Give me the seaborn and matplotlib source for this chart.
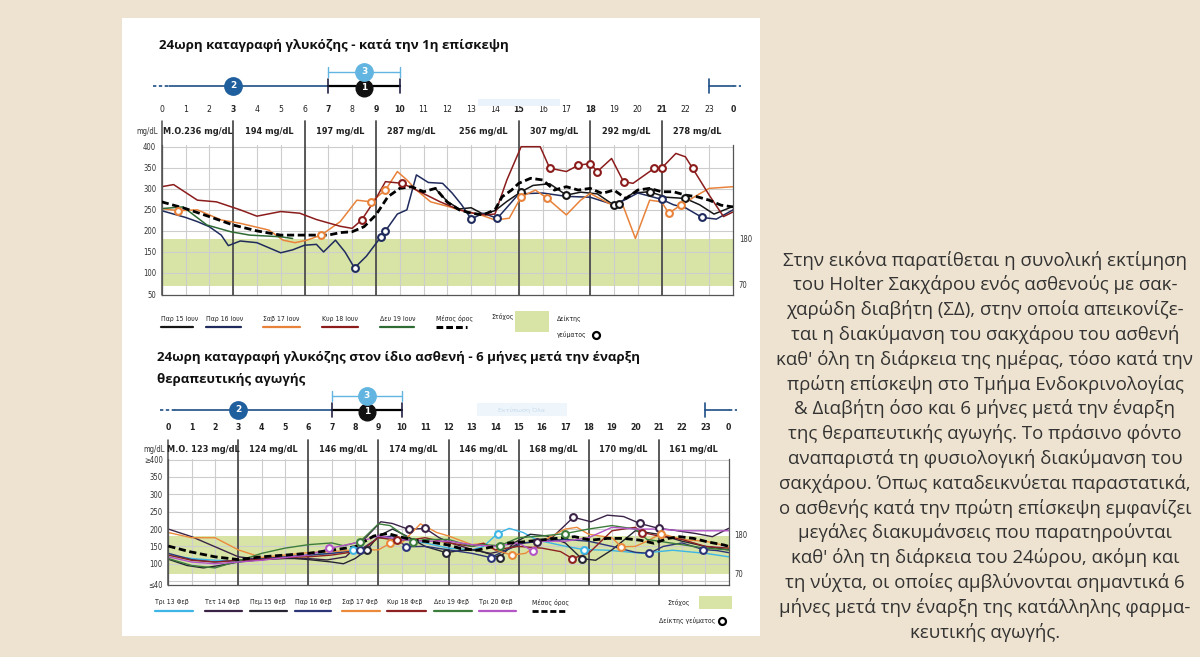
import numpy as np
import pandas as pd
import matplotlib
matplotlib.use("Agg")
import matplotlib.pyplot as plt
from matplotlib.patches import Rectangle
from matplotlib.lines import Line2D
from matplotlib import font_manager as fm
import seaborn as sns

W, H = 1200, 657

# ---------------- first visit (June) ----------------
top_days = ['Παρ 15 Ιουν', 'Παρ 16 Ιουν', 'Σαβ 17 Ιουν', 'Κυρ 18 Ιουν', 'Δευ 19 Ιουν']
top_colors = ['#161616', '#1f2b5c', '#e8823a', '#8b1c1c', '#2f6b35']

par15_h = [11.5, 12.0, 12.5, 13.0, 13.5, 14.0, 14.5, 15.1, 15.6, 16.3, 17.0, 17.6, 18.3, 19.0, 19.2,
           19.8, 20.5, 21.2, 22.0, 22.6, 23.2, 24.0]
par15_v = [300, 270, 252, 255, 240, 248, 270, 293, 308, 312, 285, 292, 288, 261, 265,
           290, 293, 280, 277, 262, 240, 258]
par16_h = [0, 0.5, 1, 1.5, 2, 2.5, 2.8, 3.3, 4, 4.5, 5, 5.5, 6, 6.5, 6.8, 7.3, 7.7, 8.1, 8.6, 9.2, 9.4,
           9.9, 10.3, 10.7, 11.2, 11.8, 12.2, 12.6, 13.0, 13.5, 14.1, 14.6, 15.0, 16.0, 17.0, 18.0,
           19.0, 19.5, 20.0, 21.0, 21.5, 22.0, 22.7, 23.3, 24.0]
par16_v = [248, 240, 232, 222, 210, 190, 165, 176, 172, 160, 148, 155, 166, 168, 150, 178, 150, 112, 140,
           185, 200, 240, 250, 333, 315, 313, 290, 262, 228, 242, 230, 262, 288, 290, 282, 280,
           262, 275, 290, 275, 262, 255, 232, 228, 250]
sab17_h = [0, 0.7, 1.5, 2.5, 3.3, 4.5, 5.1, 5.6, 6.1, 6.7, 7.5, 8.2, 8.8, 9.4, 9.9, 10.3, 10.7, 11.3,
           12.1, 12.5, 13.4, 14.0, 14.6, 15.1, 15.7, 16.2, 17.0, 17.6, 18.0, 18.8, 19.4, 19.9, 20.5,
           21.0, 21.3, 21.8, 22.5, 23.0, 24.0]
sab17_v = [253, 248, 250, 226, 218, 202, 178, 172, 178, 190, 222, 273, 269, 297, 341, 321, 297, 269,
           257, 250, 238, 226, 230, 281, 297, 277, 238, 273, 289, 265, 257, 182, 273,
           269, 242, 261, 285, 301, 305]
kyr18_h = [0, 0.5, 1.5, 2.3, 3.3, 4.0, 5.0, 5.8, 6.5, 7.5, 8.0, 8.4, 9.0, 9.4, 10.1, 10.7, 11.7, 12.5,
           13.1, 13.6, 14.0, 14.5, 15.1, 15.9, 16.3, 17.0, 17.5, 18.0, 18.3, 18.9, 19.4, 19.8, 20.7,
           21.0, 21.6, 22.0, 22.3, 23.0, 23.6, 24.0]
kyr18_v = [305, 310, 273, 269, 250, 235, 246, 242, 227, 211, 206, 226, 277, 317, 313, 297, 269, 250,
           242, 238, 240, 321, 400, 400, 349, 341, 356, 360, 341, 372, 317, 313, 349,
           349, 384, 376, 349, 285, 234, 245]
dev19_h = [0, 0.9, 1.9, 2.9, 3.7, 5.0, 5.5]
dev19_v = [253, 257, 214, 198, 190, 186, 182]
top_mean_h = [0, 1, 2, 3, 4, 5, 6, 7, 7.5, 8, 8.5, 9, 9.5, 10, 10.5, 11, 11.5, 12, 12.5, 13, 13.5, 14,
              14.3, 14.7, 15, 15.5, 16, 16.5, 17, 17.5, 18, 18.5, 19, 19.5, 20, 20.5, 21, 21.5, 22,
              22.5, 23, 23.5, 24]
top_mean_v = [269, 253, 234, 214, 200, 190, 190, 190, 196, 198, 210, 238, 281, 301, 305, 293, 301, 268,
              250, 242, 238, 250, 281, 297, 313, 325, 321, 297, 305, 297, 301, 289, 297, 277, 297,
              301, 293, 293, 285, 281, 273, 261, 257]
# meal markers
par15_meal = [(15.1, 293), (17.0, 285), (19.0, 261), (19.2, 265), (20.5, 293), (22.0, 277)]
par16_meal = [(8.1, 112), (9.2, 185), (9.4, 200), (13.0, 228), (14.1, 230), (21.0, 275), (22.7, 232)]
sab17_meal = [(0.7, 248), (6.7, 190), (8.8, 269), (9.4, 297), (15.1, 281), (16.2, 277), (21.3, 242), (21.8, 261)]
kyr18_meal = [(8.4, 226), (10.1, 313), (16.3, 349), (17.5, 356), (18.0, 360), (18.3, 341), (19.4, 317),
              (20.7, 349), (21.0, 349), (22.3, 349)]
dev19_meal = []
top_header = ['M.O.236 mg/dL', '194 mg/dL', '197 mg/dL', '287 mg/dL', '256 mg/dL', '307 mg/dL',
              '292 mg/dL', '278 mg/dL']

# ---------------- six months later (February) ----------------
bot_days = ['Τρι 13 Φεβ', 'Τετ 14 Φεβ', 'Πεμ 15 Φεβ', 'Παρ 16 Φεβ', 'Σαβ 17 Φεβ', 'Κυρ 18 Φεβ',
            'Δευ 19 Φεβ', 'Τρι 20 Φεβ']
bot_colors = ['#3db5e5', '#3b2348', '#262633', '#2c3577', '#ec8a3c', '#8e2222', '#3d7d3c', '#b455c6']

tri13_h = [0, 1, 2, 3, 4, 5, 6, 7, 7.9, 8.5, 9, 10, 11, 12, 13, 13.5, 14.1, 14.6, 15.2, 15.8, 17.1, 17.8,
           18.8, 19.5, 20.3, 21, 21.6, 23, 24]
tri13_v = [125, 115, 110, 108, 112, 118, 125, 130, 139, 150, 175, 170, 160, 145, 140, 150, 187, 202, 190,
           168, 149, 141, 139, 135, 130, 135, 139, 130, 120]
tet14_h = [0, 1, 2, 3, 4, 5, 6, 6.8, 7.6, 8.5, 9.1, 9.6, 10.3, 11.0, 11.6, 12.1, 13.1, 13.8, 14.5, 15.0,
           15.8, 16.4, 17.35, 18.1, 18.8, 19.5, 20.2, 21.0, 21.6, 22.6, 23.3, 24]
tet14_v = [200, 178, 149, 120, 112, 115, 115, 111, 120, 178, 221, 216, 199, 202, 175, 160, 139, 130, 140,
           159, 163, 173, 234, 221, 240, 236, 216, 202, 197, 187, 178, 202]
pem15_h = [0, 0.8, 1.5, 2.2, 3, 4, 5, 6, 7, 7.5, 8, 8.5, 9, 9.6, 10.2, 11, 11.9, 12.5, 13.2, 14.2, 14.8,
           15.5, 16.2, 17, 17.7, 18.3, 19, 20, 21, 22, 23, 24]
pem15_v = [113, 95, 88, 95, 105, 112, 118, 112, 105, 100, 115, 139, 180, 200, 180, 150, 132, 138, 140,
           118, 160, 185, 180, 160, 115, 110, 140, 195, 185, 165, 150, 140]
par16f_h = [0, 1, 2, 3, 4, 5, 6, 7, 8.2, 9, 9.6, 10.2, 11, 12, 13, 13.8, 14.5, 15.2, 16, 17, 18, 19, 20,
            20.6, 21.2, 22, 22.9, 23.5, 24]
par16f_v = [130, 112, 105, 110, 115, 120, 125, 130, 139, 175, 180, 149, 150, 140, 130, 118, 140, 160, 165,
            170, 165, 150, 133, 130, 150, 160, 141, 138, 132]
sab17f_h = [0, 1, 2, 3, 4, 5, 6, 7, 8, 9, 9.5, 10, 10.8, 11.5, 12, 13, 13.5, 14, 14.7, 15.3, 16, 17,
            17.5, 18, 19, 19.4, 20, 20.5, 21.1, 22, 23, 24]
sab17f_v = [190, 175, 175, 140, 118, 125, 132, 135, 140, 140, 159, 160, 215, 190, 180, 155, 159, 140,
            125, 130, 165, 200, 205, 185, 175, 149, 150, 165, 187, 170, 165, 150]
kyr18f_h = [0, 1, 2, 3, 4, 5, 6, 7, 8, 8.5, 9, 9.8, 10.5, 11, 12, 13, 13.5, 14, 15, 16, 16.8, 17.3,
            18, 19, 20, 20.3, 21, 22, 23, 24]
kyr18f_v = [125, 110, 105, 110, 112, 118, 120, 125, 135, 150, 175, 168, 170, 175, 160, 150, 159, 140,
            150, 145, 135, 115, 130, 195, 205, 190, 180, 170, 150, 145]
dev19f_h = [0, 1, 2, 3, 4, 5, 6, 7, 7.5, 8.2, 9, 9.5, 10.5, 11, 12, 13, 13.5, 14.2, 15, 16, 17, 18, 19,
            20, 20.5, 21, 22, 23, 24]
dev19f_v = [115, 95, 88, 108, 130, 145, 155, 160, 152, 163, 215, 210, 163, 170, 170, 150, 155, 152, 175,
            180, 187, 200, 210, 200, 170, 165, 155, 145, 140]
tri20_h = [0, 1, 2, 3, 4, 5, 6, 6.9, 8, 8.5, 9, 9.5, 10, 11, 12, 13, 14, 15, 15.6, 16, 17, 18, 19, 20,
           21, 22, 23, 24]
tri20_v = [120, 105, 100, 105, 110, 118, 125, 144, 160, 170, 180, 175, 170, 165, 165, 155, 150, 160,
           137, 165, 165, 175, 205, 200, 200, 195, 195, 195]
bot_mean_h = [0, 0.9, 2, 3, 4, 5, 6, 7, 8, 8.5, 8.8, 9.4, 9.9, 10.5, 11.2, 12, 12.5, 13.2, 13.9, 14.5,
              15.2, 15.9, 16.6, 17.4, 18.1, 18.8, 19.5, 20.2, 20.8, 21.4, 21.9, 22.5, 23.1, 23.8, 24]
bot_mean_v = [151, 135, 120, 112, 120, 125, 130, 139, 149, 168, 180, 187, 178, 168, 163, 154, 144, 139,
              149, 159, 163, 168, 173, 178, 168, 173, 173, 168, 159, 173, 178, 173, 163, 154, 150]
tri13_meal = [(7.9, 139), (14.1, 187), (17.8, 141)]
tet14_meal = [(10.3, 199), (11.0, 202), (15.8, 163), (17.35, 234), (20.2, 216), (21.0, 202)]
pem15_meal = [(8.5, 139), (11.9, 132), (14.2, 118), (17.7, 115)]
par16f_meal = [(8.2, 139), (10.2, 149), (13.8, 118), (20.6, 130), (22.9, 141)]
sab17f_meal = [(9.5, 159), (14.7, 125), (19.4, 149), (21.1, 187)]
kyr18f_meal = [(9.8, 168), (17.3, 115), (20.3, 190)]
dev19f_meal = [(8.2, 163), (10.5, 163), (14.2, 152), (17.0, 187)]
tri20_meal = [(6.9, 144), (15.6, 137)]
bot_header = ['M.O. 123 mg/dL', '124 mg/dL', '146 mg/dL', '174 mg/dL', '146 mg/dL', '168 mg/dL',
              '170 mg/dL', '161 mg/dL']

paragraph = [
    "Στην εικόνα παρατίθεται η συνολική εκτίμηση",
    "του Holter Σακχάρου ενός ασθενούς με σακ-",
    "χαρώδη διαβήτη (ΣΔ), στην οποία απεικονίζε-",
    "ται η διακύμανση του σακχάρου του ασθενή",
    "καθ' όλη τη διάρκεια της ημέρας, τόσο κατά την",
    "πρώτη επίσκεψη στο Τμήμα Ενδοκρινολογίας",
    "& Διαβήτη όσο και 6 μήνες μετά την έναρξη",
    "της θεραπευτικής αγωγής. Το πράσινο φόντο",
    "αναπαριστά τη φυσιολογική διακύμανση του",
    "σακχάρου. Όπως καταδεικνύεται παραστατικά,",
    "ο ασθενής κατά την πρώτη επίσκεψη εμφανίζει",
    "μεγάλες διακυμάνσεις που παρατηρούνται",
    "καθ' όλη τη διάρκεια του 24ώρου, ακόμη και",
    "τη νύχτα, οι οποίες αμβλύνονται σημαντικά 6",
    "μήνες μετά την έναρξη της κατάλληλης φαρμα-",
    "κευτικής αγωγής.",
]

top_series = [(par15_h, par15_v), (par16_h, par16_v), (sab17_h, sab17_v), (kyr18_h, kyr18_v), (dev19_h, dev19_v)]
top_meals = [par15_meal, par16_meal, sab17_meal, kyr18_meal, dev19_meal]
bot_series = [(tri13_h, tri13_v), (tet14_h, tet14_v), (pem15_h, pem15_v), (par16f_h, par16f_v),
              (sab17f_h, sab17f_v), (kyr18f_h, kyr18f_v), (dev19f_h, dev19f_v), (tri20_h, tri20_v)]
bot_meals = [tri13_meal, tet14_meal, pem15_meal, par16f_meal, sab17f_meal, kyr18f_meal, dev19f_meal, tri20_meal]

# ---------------- style ----------------
sns.set_style("white")
plt.rcParams['font.family'] = ['DejaVu Sans']
# condensed face for the small chart labels, if the system has one
cond = [f for f in fm.fontManager.ttflist if f.name == 'DejaVu Sans' and str(f.stretch) in ('condensed', '300')]
if cond:
    NARROW = dict(family='DejaVu Sans', fontstretch='condensed')
    SC = 1.0
else:
    NARROW = dict(family='DejaVu Sans')
    SC = 0.82
GREEN = '#d7e4a6'
NAVY = '#1f4f86'
LBLUE = '#62b5e0'
GRID = '#cdcdcd'
DARK = '#4d4d4d'

fig = plt.figure(figsize=(12, 6.57), dpi=100)
fig.patch.set_facecolor('#eee3d0')
fig.add_artist(Rectangle((122 / W, 1 - 636 / H), (760 - 122) / W, (636 - 18) / H,
                         transform=fig.transFigure, fc='white', ec='none', zorder=0))


def fx(x):
    return x / W


def fy(y):
    return 1 - y / H


def ftext(x, y, s, **kw):
    fig.text(fx(x), fy(y), s, **kw)


def fline(x0, x1, y0, y1, **kw):
    fig.add_artist(Line2D([fx(x0), fx(x1)], [fy(y0), fy(y1)], transform=fig.transFigure, **kw))


def make_ax(box):
    L, T, R, B = box
    ax = fig.add_axes([L / W, 1 - B / H, (R - L) / W, (B - T) / H])
    ax.patch.set_alpha(0)
    return ax


def yf(box, ypx):
    L, T, R, B = box
    return (B - ypx) / (B - T)


def furniture(ax, box, ylim, yticks, ylabels, dividers, header, y_hours, y_head, head_top,
              bold_hours, grid_y):
    ax.set_xlim(0, 24)
    ax.set_ylim(*ylim)
    ax.axhspan(70, 180, color=GREEN, lw=0, zorder=0.2)
    for h in range(1, 24):
        ax.axvline(h, color=GRID, lw=0.8, zorder=0.4)
    for v in grid_y:
        ax.axhline(v, color=GRID, lw=0.8, zorder=0.4)
    ax.set_xticks([])
    ax.set_yticks(yticks)
    ax.set_yticklabels(ylabels, fontsize=5.5 * SC, color='#333333', **NARROW)
    ax.tick_params(axis='y', length=3, width=0.7, pad=1, color='#555555')
    ax.spines['top'].set_visible(False)
    for s in ['left', 'right', 'bottom']:
        ax.spines[s].set_color('#555555')
        ax.spines[s].set_linewidth(0.9)
    xt = ax.get_xaxis_transform()
    for h in range(25):
        ax.text(h, yf(box, y_hours), str(h % 24), transform=xt, ha='center', va='center',
                fontsize=6.2 * SC, color='#222222',
                fontweight='bold' if h in bold_hours else 'normal', clip_on=False, **NARROW)
    ax.plot([0, 0], [0, yf(box, head_top)], transform=xt, color=DARK, lw=1.1, clip_on=False)
    for h in dividers:
        ax.plot([h, h], [0, yf(box, head_top)], transform=xt, color=DARK, lw=1.3, clip_on=False)
    for i, s in enumerate(header):
        ax.text(3 * i + 1.5, yf(box, y_head), s, transform=xt, ha='center', va='center',
                fontsize=6.6 * SC, color='#222222', fontweight='bold', clip_on=False, **NARROW)
    ax.text(-0.15, yf(box, y_head), 'mg/dL', transform=xt, ha='right', va='center',
            fontsize=5.5 * SC, color='#333333', clip_on=False, **NARROW)
    ax.text(24.25, 180, '180', ha='left', va='center', fontsize=5.5 * SC,
            color='#333333', clip_on=False, **NARROW)
    ax.text(24.25, 70, '70', ha='left', va='center', fontsize=5.5 * SC,
            color='#333333', clip_on=False, **NARROW)


def timeline(ax, box, y_main, y_blue):
    xt = ax.get_xaxis_transform()
    m = yf(box, y_main)
    b = yf(box, y_blue)
    k = lambda px: px / (box[3] - box[1])
    kw = dict(transform=xt, clip_on=False)
    ax.plot([-0.35, 0.3], [m, m], color=NAVY, lw=1.2, ls=(0, (2, 1.5)), **kw)
    ax.plot([0.3, 7], [m, m], color=NAVY, lw=1.2, **kw)
    ax.plot([7, 10], [m, m], color='black', lw=1.6, **kw)
    for h in (7, 10):
        ax.plot([h, h], [m - k(7), m + k(7)], color='#222244', lw=1.2, **kw)
        ax.plot([h, h], [b - k(5), b + k(5)], color=LBLUE, lw=1.0, **kw)
    ax.plot([7, 10], [b, b], color=LBLUE, lw=1.0, **kw)
    ax.plot([3], [m], marker='o', ms=12.5, color='#1f5f9e', **kw)
    ax.text(3, m, '2', ha='center', va='center', color='white', fontsize=6.5, fontweight='bold', **kw)
    ax.plot([8.5], [m - k(2)], marker='o', ms=12, color='#111111', **kw)
    ax.text(8.5, m - k(2), '1', ha='center', va='center', color='white', fontsize=6.5, fontweight='bold', **kw)
    ax.plot([8.5], [b], marker='o', ms=12.5, color=LBLUE, **kw)
    ax.text(8.5, b, '3', ha='center', va='center', color='white', fontsize=6.5, fontweight='bold', **kw)
    ax.plot([23, 23], [m - k(7), m + k(7)], color=NAVY, lw=1.2, **kw)
    ax.plot([23, 24], [m, m], color=NAVY, lw=1.2, **kw)
    ax.plot([24, 24.35], [m, m], color=NAVY, lw=1.2, ls=(0, (2, 1.5)), **kw)


def draw_series(ax, days, colors, series, meals, mean_h, mean_v, lw):
    rows = []
    for d, (hh, vv) in zip(days, series):
        rows.append(pd.DataFrame({'hour': hh, 'glucose': vv, 'day': d}))
    df = pd.concat(rows, ignore_index=True)
    pal = dict(zip(days, colors))
    sns.lineplot(data=df, x='hour', y='glucose', hue='day', palette=pal, estimator=None,
                 sort=False, legend=False, lw=lw, ax=ax, zorder=2)
    sns.lineplot(x=mean_h, y=mean_v, color='black', lw=2.0, linestyle=(0, (2.6, 1.3)),
                 estimator=None, sort=False, ax=ax, zorder=3)
    for d, c, ml in zip(days, colors, meals):
        if not ml:
            continue
        mh, mv = zip(*ml)
        sns.scatterplot(x=list(mh), y=list(mv), color='white', edgecolor=c, s=24,
                        linewidth=1.5, ax=ax, zorder=4, clip_on=False)
    ax.set_xlabel('')
    ax.set_ylabel('')


# ---------------- top chart ----------------
ty = lambda v: 146.7 + (400 - v) * 0.421
top_box = (161.7, ty(403), 733.0, ty(47))
ax1 = make_ax(top_box)
furniture(ax1, top_box, (47, 403), list(range(50, 401, 50)), [str(v) for v in range(50, 401, 50)],
          [3, 6, 9, 15, 18, 21], top_header, 110, 131, 121, {3, 7, 9, 10, 15, 18, 21, 24},
          list(range(100, 401, 50)))
draw_series(ax1, top_days, top_colors, top_series, top_meals, top_mean_h, top_mean_v, 1.1)
timeline(ax1, top_box, 86, 72)
ftext(159, 45, '24ωρη καταγραφή γλυκόζης - κατά την 1η επίσκεψη', fontsize=9.5,
      fontweight='bold', family='Open Sans', color='#111111', va='center')
fig.add_artist(Rectangle((fx(478), fy(106)), 82 / W, 7 / H, transform=fig.transFigure,
                         fc='#eaf3fb', ec='none'))

# ---------------- bottom chart ----------------
by = lambda v: 511.7 + (250 - v) * 0.347
bot_box = (168.3, by(402), 728.7, by(38))
ax2 = make_ax(bot_box)
furniture(ax2, bot_box, (38, 402), [40, 100, 150, 200, 250, 300, 350, 400],
          ['≤40', '100', '150', '200', '250', '300', '350', '≥400'],
          [3, 6, 9, 12, 15, 18, 21], bot_header, 428, 449, 440, set(range(25)),
          [50, 100, 150, 200, 250, 300, 350, 400])
draw_series(ax2, bot_days, bot_colors, bot_series, bot_meals, bot_mean_h, bot_mean_v, 1.0)
timeline(ax2, bot_box, 410, 396)
ftext(157, 358, '24ωρη καταγραφή γλυκόζης στον ίδιο ασθενή - 6 μήνες μετά την έναρξη',
      fontsize=9.5, fontweight='bold', family='Open Sans', color='#111111', va='center')
ftext(157, 380, 'θεραπευτικής αγωγής', fontsize=9.5, fontweight='bold', family='Open Sans',
      color='#111111', va='center')
fig.add_artist(Rectangle((fx(477), fy(416)), 90 / W, 13 / H, transform=fig.transFigure,
                         fc='#eef5fb', ec='none'))
ftext(522, 410, 'Εκτύπωση Όλα', fontsize=4.5, color='#c8dbeb', ha='center', va='center')

# ---------------- legends ----------------
lg_kw = dict(fontsize=5.4 * SC * 0.92, color='#222222', va='center', **NARROW)
top_leg_x = [(161, 193), (206, 241), (263, 300), (322, 358), (380, 414)]
for d, c, (x0, x1) in zip(top_days, top_colors, top_leg_x):
    ftext(x0, 319, d, **lg_kw)
    fline(x0, x1, 327, 327, color=c, lw=1.6)
ftext(436, 319, 'Μέσος όρος', **lg_kw)
fline(436, 467, 327, 327, color='black', lw=2.2, ls=(0, (2.2, 1.0)))
ftext(491, 317, 'Στόχος', **lg_kw)
fig.add_artist(Rectangle((fx(515), fy(332)), 34 / W, 21 / H, transform=fig.transFigure,
                         fc=GREEN, ec='none'))
ftext(557, 319, 'Δείκτης', **lg_kw)
ftext(557, 335, 'γεύματος', **lg_kw)
fig.add_artist(Line2D([fx(596)], [fy(335)], marker='o', ms=5, mfc='white', mec='black', mew=1.6,
                      transform=fig.transFigure))

bot_leg_x = [(155, 193), (205, 242), (250, 287), (295, 331), (342, 380), (387, 426), (434, 472), (479, 516)]
for d, c, (x0, x1) in zip(bot_days, bot_colors, bot_leg_x):
    ftext(x0, 602, d, **lg_kw)
    fline(x0, x1, 611, 611, color=c, lw=1.6)
ftext(532, 602, 'Μέσος όρος', **lg_kw)
fline(532, 566, 611, 611, color='black', lw=2.0, ls=(0, (2.2, 1.0)))
ftext(667, 602, 'Στόχος', **lg_kw)
fig.add_artist(Rectangle((fx(699), fy(609)), 33 / W, 13 / H, transform=fig.transFigure,
                         fc=GREEN, ec='none'))
ftext(659, 621, 'Δείκτης γεύματος', **lg_kw)
fig.add_artist(Line2D([fx(722)], [fy(621)], marker='o', ms=5, mfc='white', mec='black', mew=1.6,
                      transform=fig.transFigure))

# ---------------- paragraph on the right ----------------
size = 10.5
probe = fig.text(0, 0, paragraph[0], fontsize=size, family='Open Sans')
fig.canvas.draw()
wpx = probe.get_window_extent().width
probe.remove()
size = size * 404 / wpx
for i, line in enumerate(paragraph):
    ftext(985, 260 + i * 24.8, line, fontsize=size, family='Open Sans', color='#333333',
          ha='center', va='center')

fig.savefig('out.png', dpi=100, facecolor=fig.get_facecolor())
